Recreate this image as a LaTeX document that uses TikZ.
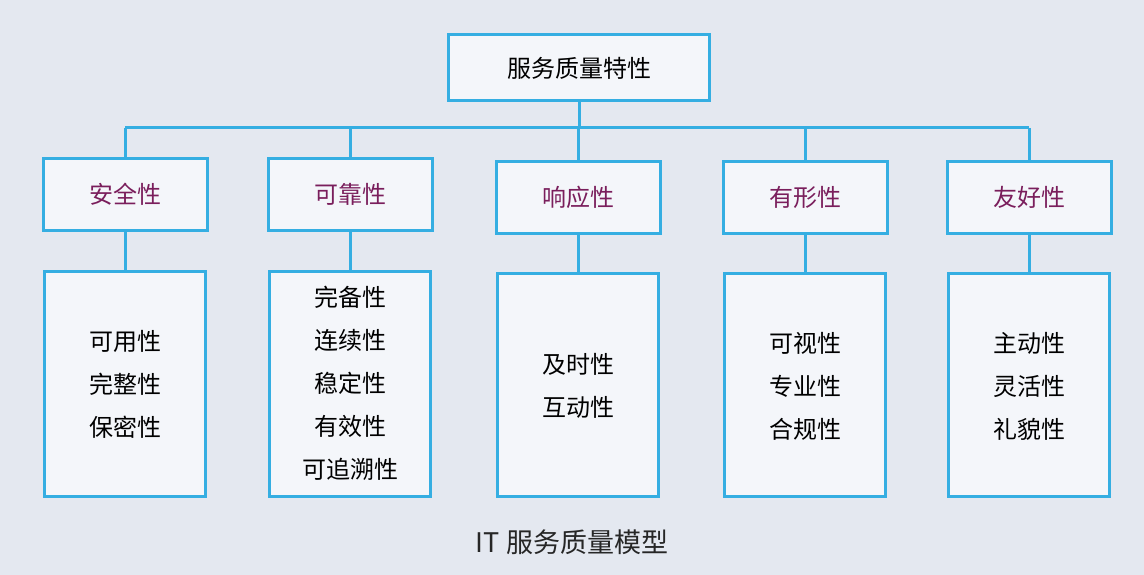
\documentclass[tikz,border=0pt]{standalone}
\usepackage{fontspec}
\setmainfont{Noto Sans CJK SC}
\begin{document}
\begin{tikzpicture}[x=1pt,y=-1pt,
  box/.style={draw=boxblue,line width=3pt,fill=boxfill,inner sep=0pt},
  lnk/.style={draw=boxblue,line width=3pt},
  lab/.style={font=\fontsize{24}{28}\selectfont,text=black},
  mid/.style={font=\fontsize{24}{28}\selectfont,text=midpurple},
  lst/.style={font=\fontsize{24}{43}\selectfont,align=center,text=black}]
\definecolor{boxblue}{HTML}{35AEE2}
\definecolor{boxfill}{HTML}{F4F6FA}
\definecolor{bg}{HTML}{E4E8F0}
\definecolor{midpurple}{HTML}{7A1E5C}
\fill[bg] (0,0) rectangle (1144,575);
\useasboundingbox (0,0) rectangle (1144,575);
\node[box,minimum width=261pt,minimum height=66pt] (top) at (579,68) {};
\node[lab] at (top) {服务质量特性};
\coordinate (hl) at (125,128); \coordinate (hr) at (1029,128);
\coordinate (hm) at (579,128);
\draw[lnk] (hl) -- (hr);
\draw[lnk] (top.south) -- (hm);
\foreach \i/\cx/\t/\mt/\bt/\lines/\ly in {
 1/125/157/安全性/270/{可用性\\完整性\\保密性}/384,
 2/350/157/可靠性/270/{完备性\\连续性\\稳定性\\有效性\\可追溯性}/383,
 3/578/160/响应性/272/{及时性\\互动性}/386,
 4/805/160/有形性/272/{可视性\\专业性\\合规性}/386,
 5/1029/160/友好性/272/{主动性\\灵活性\\礼貌性}/386}{
  \coordinate (c\i) at (\cx,128);
  \node[box,minimum width=164pt,minimum height=72pt,anchor=north] (m\i) at (\cx,\t) {};
  \node[mid] at (m\i) {\mt};
  \node[box,minimum width=161pt,minimum height={495-\bt},anchor=north] (b\i) at (\cx,\bt) {};
  \node[lst] at (\cx,\ly) {\lines};
  \draw[lnk] (c\i) -- (m\i.north);
  \draw[lnk] (m\i.south) -- (b\i.north);
}
\node[font=\fontsize{27}{30}\selectfont,text=black!85] (cap) at (572,542) {IT 服务质量模型};
\end{tikzpicture}
\end{document}
